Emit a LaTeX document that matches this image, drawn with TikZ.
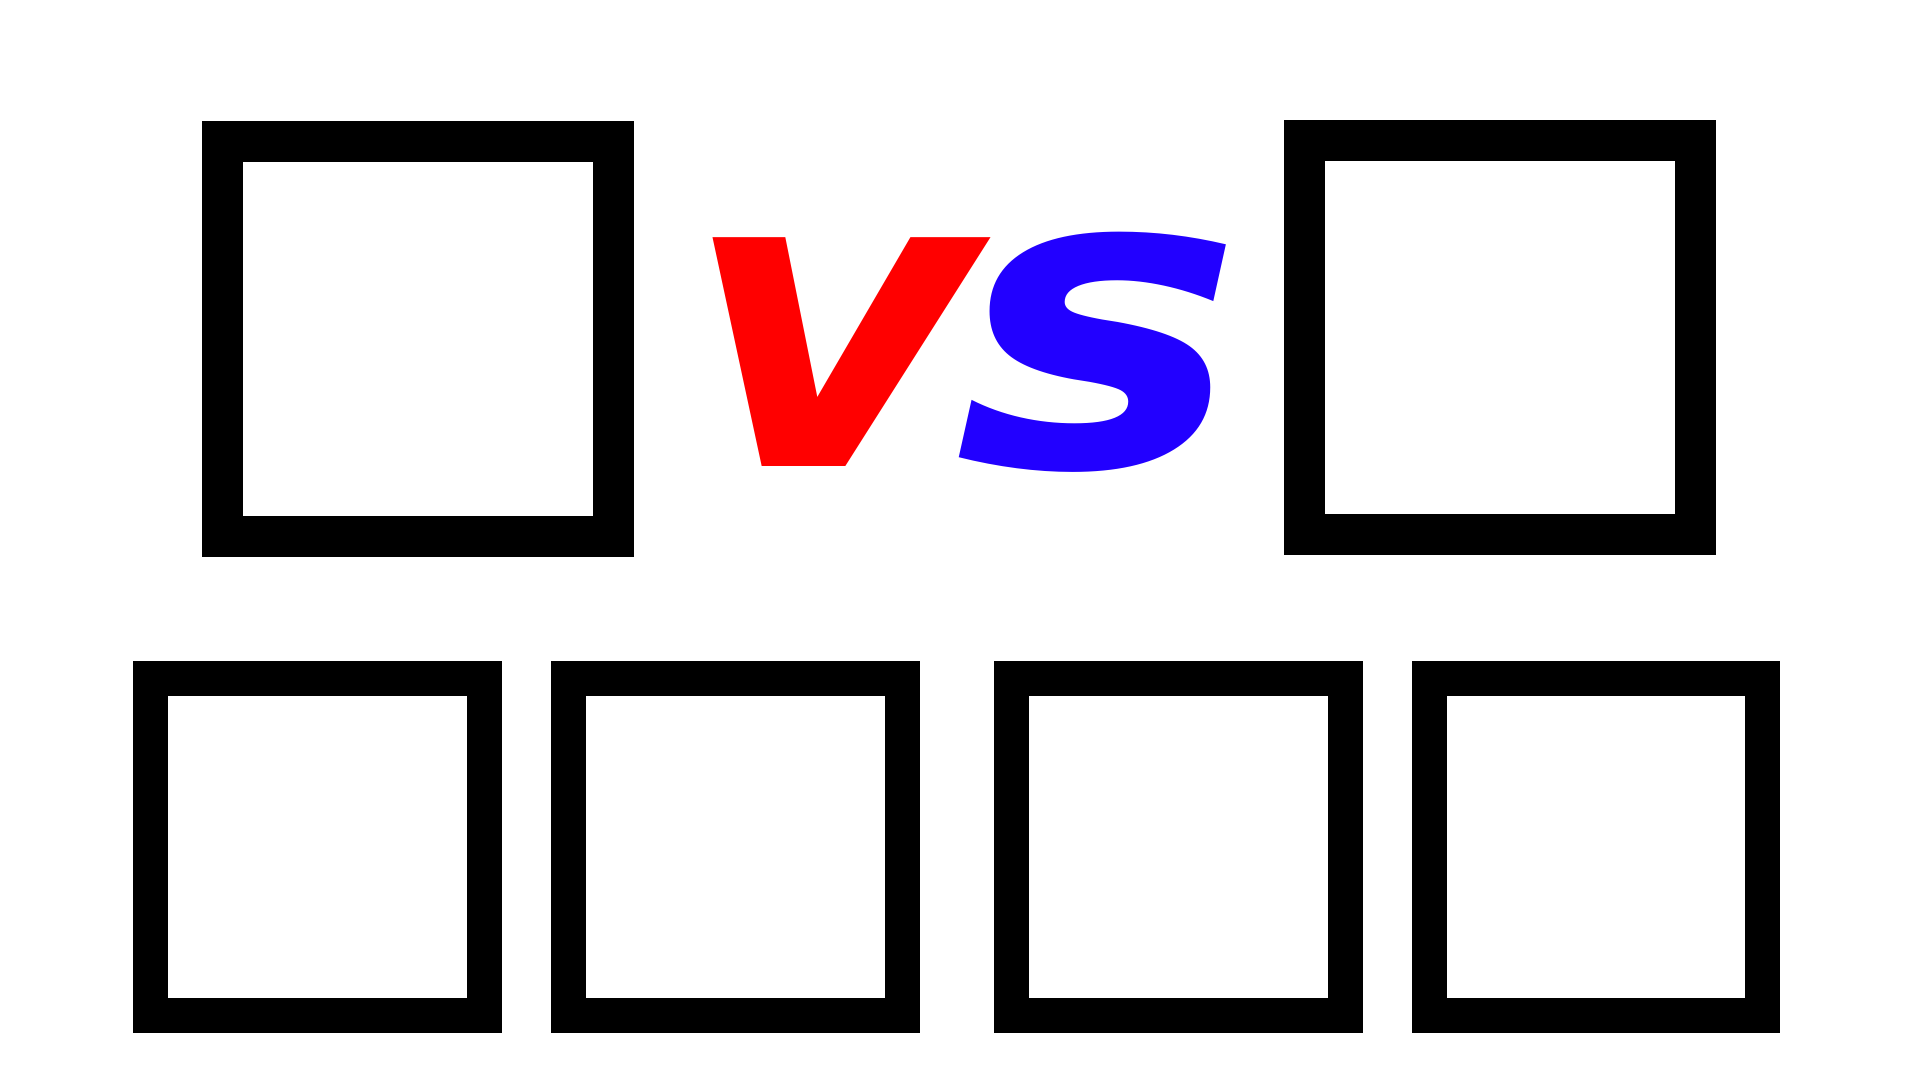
\documentclass[tikz,border=0pt]{standalone}
\usepackage{fontspec}
\newfontfamily\vsfont{DejaVu Sans}
\definecolor{vsred}{HTML}{FF0000}
\definecolor{vsblue}{HTML}{2200FF}
\begin{document}
\begin{tikzpicture}[x=0.01cm,y=-0.01cm,
  bigbox/.style={draw=black, line width=0.41cm, rectangle, inner sep=0pt, outer sep=0pt, minimum width=3.91cm, minimum height=3.95cm},
  smallbox/.style={draw=black, line width=0.35cm, rectangle, inner sep=0pt, outer sep=0pt, minimum width=3.34cm, minimum height=3.37cm}]
\useasboundingbox[fill=white] (0,0) rectangle (1920,1080);
\node[bigbox] (t1) at (418,339) {};
\node[bigbox, minimum height=3.94cm] (t2) at (1500,337.5) {};
\node[smallbox] (b1) at (317.5,847) {};
\node[smallbox] (b2) at (735.5,847) {};
\node[smallbox] (b3) at (1178.5,847) {};
\node[smallbox, minimum width=3.33cm] (b4) at (1596,847) {};
\node[anchor=base, inner sep=0pt] (vs) at (964,467)
  {\fontsize{119pt}{119pt}\vsfont\bfseries\itshape\color{vsred}\scalebox{1.08}[1]{v}\kern-0.058em\color{vsblue}\scalebox{1.16}[1]{s}};
\end{tikzpicture}
\end{document}
